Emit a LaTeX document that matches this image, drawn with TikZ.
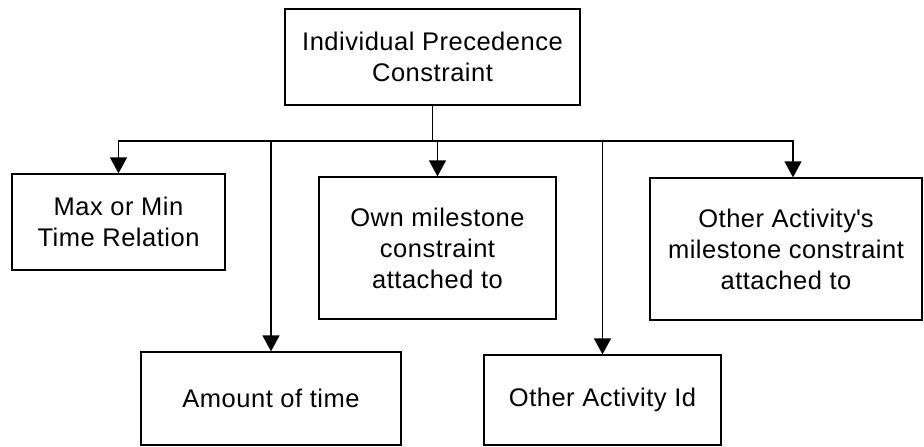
\documentclass[tikz,border=0pt]{standalone}
\usepackage{fontspec}
\setmainfont{Liberation Sans}[LetterSpace=2]
\usetikzlibrary{arrows.meta}

\begin{document}
\begin{tikzpicture}[x=1pt,y=-1pt,
  box/.style={draw, line width=1.3pt, rectangle, align=center, inner sep=0pt,
    font=\fontsize{25.5}{31}\selectfont},
  link/.style={line width=1.3pt},
  arr/.style={link, -{Triangle[length=16pt 0,width=17pt 0]}}]
  \useasboundingbox (0,0) rectangle (924,447);

  % root and its children
  \node[box, minimum width=295pt, minimum height=96pt] (top) at (432.5,57)
    {Individual Precedence\\Constraint};
  \node[box, minimum width=213pt, minimum height=96pt] (max) at (118.5,222)
    {Max or Min\\Time Relation};
  \node[box, minimum width=237pt, minimum height=142pt] (own) at (437.5,248)
    {Own milestone\\constraint\\attached to};
  \node[box, minimum width=272pt, minimum height=142pt] (oth) at (786,249)
    {Other Activity\textquotesingle s\\milestone constraint\\attached to};
  \node[box, minimum width=260pt, minimum height=93pt] (amt) at (271,398.5)
    {Amount of time};
  \node[box, minimum width=237pt, minimum height=90pt] (oid) at (602.5,400)
    {Other Activity Id};

  % bus junction below the root
  \coordinate (j) at (432.5,141);
  \draw[link] (top.south) -- (j);
  \draw[arr] (j) -| (max.north);
  \draw[arr] (j) -| (amt.north);
  \draw[arr] (j) -| (own.north);
  \draw[arr] (j) -| (oid.north);
  \draw[arr] (j) -| ([xshift=7pt]oth.north);
\end{tikzpicture}
\end{document}
